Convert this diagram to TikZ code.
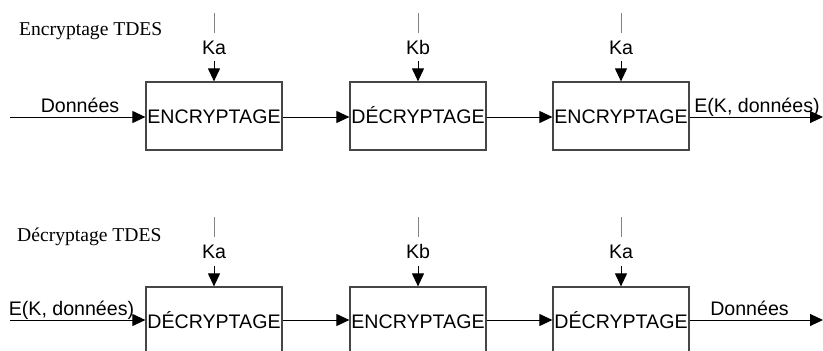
\documentclass[tikz,border=0pt]{standalone}
\usepackage{fontspec}
\setmainfont{Liberation Sans}
\newfontfamily\titlefont{Liberation Serif}
\usetikzlibrary{arrows.meta}
\definecolor{boxgray}{RGB}{70,70,70}
\definecolor{stubgray}{RGB}{130,130,130}
\begin{document}
\begin{tikzpicture}[x=1pt,y=-1pt,
  every node/.style={font=\fontsize{19.6}{22}\selectfont},
  stagebox/.style={draw=boxgray,line width=1.2pt,minimum width=136pt,minimum height=68pt,inner sep=0pt,text height=14pt,text depth=0pt},
  keylabel/.style={inner xsep=1pt,inner ysep=7pt,text height=14pt,text depth=0pt},
  flowlabel/.style={anchor=base,inner sep=0pt},
  titlelabel/.style={anchor=base west,inner sep=0pt,font=\titlefont\fontsize{19.6}{22}\selectfont},
  flow/.style={draw=black,line width=1pt,-{Triangle[length=13pt,width=12pt]}},
  stub/.style={draw=stubgray,line width=1pt}]
\useasboundingbox (0,0) rectangle (823,351);
\fill[white] (0,0) rectangle (823,351);

% ---------- top row: encryption ----------
\node[titlelabel] (t1) at (19,35.7) {Encryptage TDES};
\node[stagebox] (a1) at (214,116) {ENCRYPTAGE};
\node[stagebox] (a2) at (418,116) {DÉCRYPTAGE};
\node[stagebox] (a3) at (621,116) {ENCRYPTAGE};

\coordinate (ain) at (10,117);
\coordinate (aout) at (823,117);
\node[flowlabel] (ainl) at (80,112) {Données};
\node[flowlabel] (aoutl) at (757,112) {E(K, données)};

\draw[flow] (ain) -- ([yshift=-1pt]a1.west);
\draw[flow] ([yshift=-1pt]a1.east) -- ([yshift=-1pt]a2.west);
\draw[flow] ([yshift=-1pt]a2.east) -- ([yshift=-1pt]a3.west);
\draw[flow] ([yshift=-1pt]a3.east) -- (aout);

\coordinate (ka1t) at (214,13);
\coordinate (ka2t) at (418,13);
\coordinate (ka3t) at (621,13);
\node[keylabel] (ka1) at (214,47) {Ka};
\node[keylabel] (ka2) at (418,47) {Kb};
\node[keylabel] (ka3) at (621,47) {Ka};
\foreach \k/\b in {1/1,2/2,3/3}{
  \draw[stub] (ka\k t) -- (ka\k.north);
  \draw[flow] (ka\k.south) -- (a\b.north);
}

% ---------- bottom row: decryption ----------
\node[titlelabel] (t2) at (17,241.7) {Décryptage TDES};
\node[stagebox] (b1) at (214,321) {DÉCRYPTAGE};
\node[stagebox] (b2) at (418,321) {ENCRYPTAGE};
\node[stagebox] (b3) at (621,321) {DÉCRYPTAGE};

\coordinate (bin) at (10,320);
\coordinate (bout) at (823,320);
\node[flowlabel] (binl) at (71.5,315) {E(K, données)};
\node[flowlabel] (boutl) at (749.5,315) {Données};

\draw[flow] (bin) -- ([yshift=1pt]b1.west);
\draw[flow] ([yshift=1pt]b1.east) -- ([yshift=1pt]b2.west);
\draw[flow] ([yshift=1pt]b2.east) -- ([yshift=1pt]b3.west);
\draw[flow] ([yshift=1pt]b3.east) -- (bout);

\coordinate (kb1t) at (214,217);
\coordinate (kb2t) at (418,217);
\coordinate (kb3t) at (621,217);
\node[keylabel] (kb1) at (214,251.5) {Ka};
\node[keylabel] (kb2) at (418,251.5) {Kb};
\node[keylabel] (kb3) at (621,251.5) {Ka};
\foreach \k/\b in {1/1,2/2,3/3}{
  \draw[stub] (kb\k t) -- (kb\k.north);
  \draw[flow] (kb\k.south) -- (b\b.north);
}
\end{tikzpicture}
\end{document}
